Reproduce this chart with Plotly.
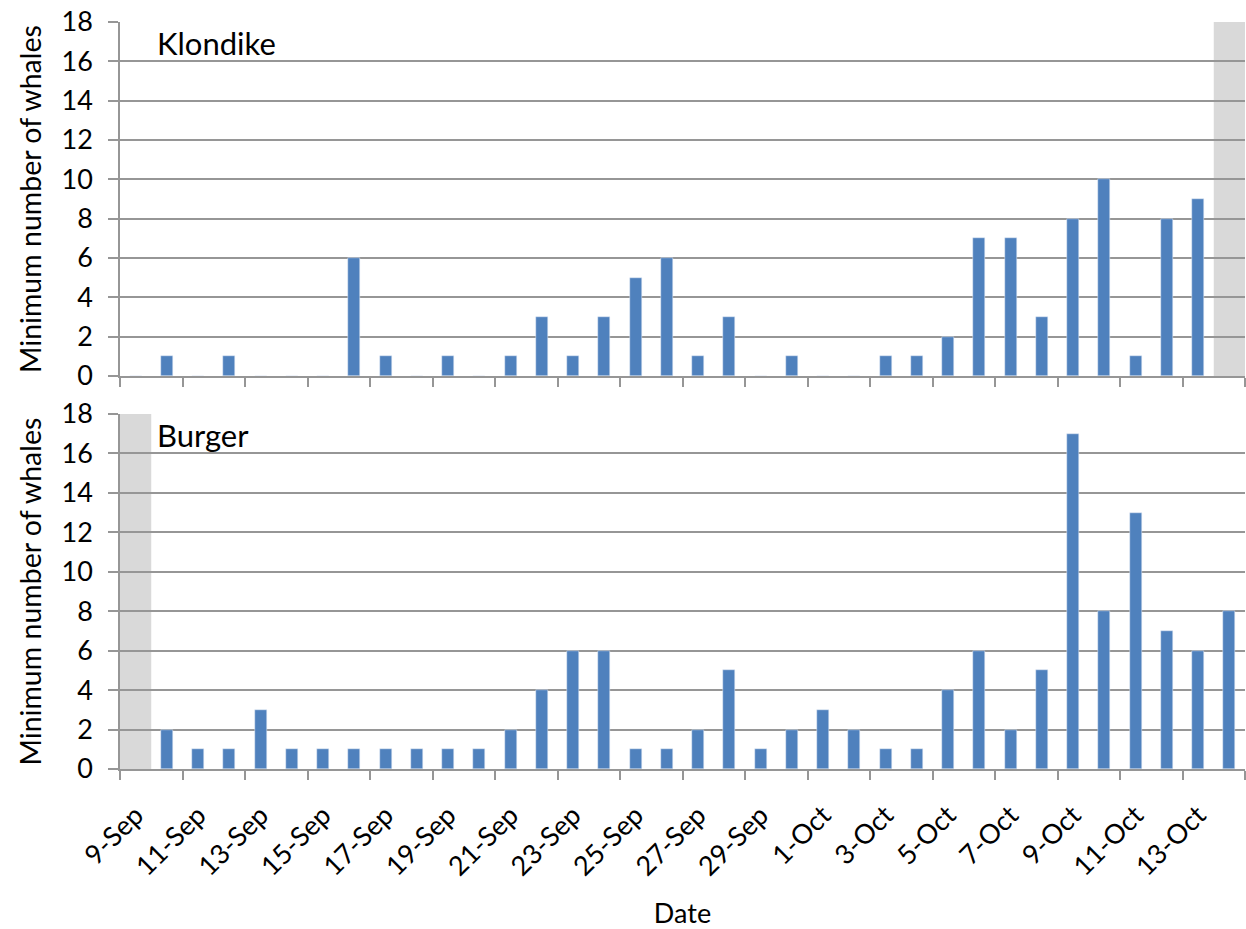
import plotly.graph_objects as go

dates = ["9-Sep", "10-Sep", "11-Sep", "12-Sep", "13-Sep", "14-Sep", "15-Sep", "16-Sep",
         "17-Sep", "18-Sep", "19-Sep", "20-Sep", "21-Sep", "22-Sep", "23-Sep", "24-Sep",
         "25-Sep", "26-Sep", "27-Sep", "28-Sep", "29-Sep", "30-Sep", "1-Oct", "2-Oct",
         "3-Oct", "4-Oct", "5-Oct", "6-Oct", "7-Oct", "8-Oct", "9-Oct", "10-Oct",
         "11-Oct", "12-Oct", "13-Oct", "14-Oct"]

klondike = [0, 1, 0, 1, 0, 0, 0, 6, 1, 0, 1, 0, 1, 3, 1, 3, 5, 6, 1, 3, 0, 1, 0, 0,
            1, 1, 2, 7, 7, 3, 8, 10, 1, 8, 9, None]
burger = [None, 2, 1, 1, 3, 1, 1, 1, 1, 1, 1, 1, 2, 4, 6, 6, 1, 1, 2, 5, 1, 2, 3, 2,
          1, 1, 4, 6, 2, 5, 17, 8, 13, 7, 6, 8]

klondike_nodata = ["14-Oct"]
burger_nodata = ["9-Sep"]

tick_labels = dates[::2]
y_ticks = list(range(0, 19, 2))

idx = list(range(len(dates)))

BLUE = "#4F81BD"
GRID = "#969696"
SHADE = "#D9D9D9"
FONT = "Lato"

fig = go.Figure()
fig.add_trace(go.Bar(x=idx, y=klondike, width=0.38, marker=dict(color=BLUE),
                     name="Klondike", xaxis="x", yaxis="y", showlegend=False,
                     customdata=dates, hovertemplate="%{customdata}: %{y}<extra>Klondike</extra>"))
fig.add_trace(go.Bar(x=idx, y=burger, width=0.38, marker=dict(color=BLUE),
                     name="Burger", xaxis="x2", yaxis="y2", showlegend=False,
                     customdata=dates, hovertemplate="%{customdata}: %{y}<extra>Burger</extra>"))

shapes = []
for d in klondike_nodata:
    i = dates.index(d)
    shapes.append(dict(type="rect", xref="x", yref="y domain", x0=i - 0.5, x1=i + 0.5,
                       y0=0, y1=1, fillcolor=SHADE, line=dict(width=0), layer="below"))
for d in burger_nodata:
    i = dates.index(d)
    shapes.append(dict(type="rect", xref="x2", yref="y2 domain", x0=i - 0.5, x1=i + 0.5,
                       y0=0, y1=1, fillcolor=SHADE, line=dict(width=0), layer="below"))

xcommon = dict(
    range=[-0.5, len(dates) - 0.5],
    tickmode="array",
    tickvals=idx[::2],
    ticktext=tick_labels,
    ticks="",
    showgrid=False,
    zeroline=False,
    showline=True,
    linecolor=GRID,
    linewidth=1.5,
    minor=dict(tickmode="linear", tick0=-0.5, dtick=2, ticks="outside", ticklen=9,
               tickwidth=1.5, tickcolor=GRID, showgrid=False),
    tickfont=dict(family=FONT, size=27, color="#000000"),
)

ycommon = dict(
    range=[0, 18],
    tickmode="array",
    tickvals=y_ticks,
    ticks="outside",
    ticklen=10,
    tickwidth=1.5,
    tickcolor=GRID,
    showgrid=True,
    gridcolor=GRID,
    gridwidth=1.5,
    zeroline=False,
    showline=True,
    linecolor=GRID,
    linewidth=1.5,
    ticklabelstandoff=10,
    tickfont=dict(family=FONT, size=27, color="#000000"),
    title=dict(text="Minimum number of whales", font=dict(family=FONT, size=28.5, color="#000000"),
               standoff=12),
)

fig.update_layout(
    width=1246,
    height=929,
    margin=dict(l=120, r=1, t=22, b=160),
    paper_bgcolor="white",
    plot_bgcolor="white",
    bargap=0,
    shapes=shapes,
    xaxis=dict(**xcommon, domain=[0, 1], anchor="y", showticklabels=False, matches="x2"),
    xaxis2=dict(**xcommon, domain=[0, 1], anchor="y2", tickangle=-45, ticklabelstandoff=18,
                title=dict(text="Date", font=dict(family=FONT, size=27, color="#000000"), standoff=26)),
    yaxis=dict(**ycommon, domain=[0.5261, 1], anchor="x"),
    yaxis2=dict(**ycommon, domain=[0, 0.4752], anchor="x2"),
    annotations=[
        dict(text="Klondike", xref="x domain", yref="y domain", x=0.031, y=0.94,
             xanchor="left", yanchor="middle", showarrow=False,
             font=dict(family=FONT, size=31, color="#000000")),
        dict(text="Burger", xref="x2 domain", yref="y2 domain", x=0.031, y=0.94,
             xanchor="left", yanchor="middle", showarrow=False,
             font=dict(family=FONT, size=31, color="#000000")),
    ],
)

fig.write_html("out.html", config={"displayModeBar": False},
               post_script="document.body.style.margin='0px';")
